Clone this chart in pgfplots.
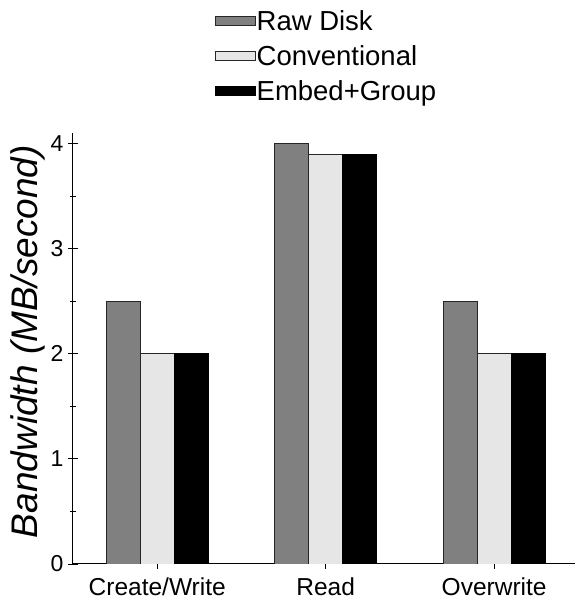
\documentclass[border=0pt]{standalone}
\usepackage{pgfplots}
\pgfplotsset{compat=1.18}
\usepackage{fontspec}
\setmainfont{Liberation Sans}
\definecolor{rawgray}{HTML}{808080}
\definecolor{convgray}{HTML}{E6E6E6}
\begin{document}
\begin{tikzpicture}
\begin{axis}[
  scale only axis,
  width=502pt, height=431pt,
  ybar=0pt, bar width=34pt,
  xmin=-0.5, xmax=2.48,
  ymin=0, ymax=4.1,
  xtick={0,1,2},
  xticklabels={Create/Write,Read,Overwrite},
  ytick={0,1,2,3,4},
  minor y tick num=1,
  tick align=outside,
  major tick length=9pt, minor tick length=6pt,
  axis x line=bottom, axis y line=left,
  axis line style={-, line width=1pt, black},
  tick style={line width=0.8pt, black},
  xtick pos=bottom, ytick pos=left,
  /pgf/number format/assume math mode=true,
  yticklabel style={font=\fontsize{23}{27}\selectfont, inner sep=5pt},
  xticklabel style={font=\fontsize{24.5}{28}\selectfont, yshift=-6pt},
  ylabel={\itshape Bandwidth (MB/second)},
  ylabel style={font=\fontsize{37}{42}\selectfont, at={(axis description cs:-0.0906,0.516)}, anchor=center},
  legend style={at={(0.282,1.287)}, anchor=north west, draw=none, fill=none,
    font=\fontsize{27.5}{32}\selectfont, row sep=11.5pt, inner sep=0pt,
    nodes={inner sep=1pt}},
  legend cell align=left,
  legend image code/.code={\draw[#1, line width=0.9pt] (0pt,-4.5pt) rectangle (40pt,4.5pt);},
]
\addplot[fill=rawgray, draw=black!85, line width=0.9pt] coordinates {(0,2.5) (1,4.0) (2,2.5)};
\addplot[fill=convgray, draw=black!85, line width=0.9pt] coordinates {(0,2.0) (1,3.9) (2,2.0)};
\addplot[fill=black, draw=black, line width=0.9pt] coordinates {(0,2.0) (1,3.9) (2,2.0)};
\legend{Raw Disk, Conventional, Embed+Group}
\coordinate (bl) at (rel axis cs:0,0);
\coordinate (tr) at (rel axis cs:1,1);
\end{axis}
\pgfresetboundingbox
\path ([shift={(-73pt,-39pt)}]bl) rectangle ([shift={(0pt,133pt)}]tr);
\end{tikzpicture}
\end{document}
